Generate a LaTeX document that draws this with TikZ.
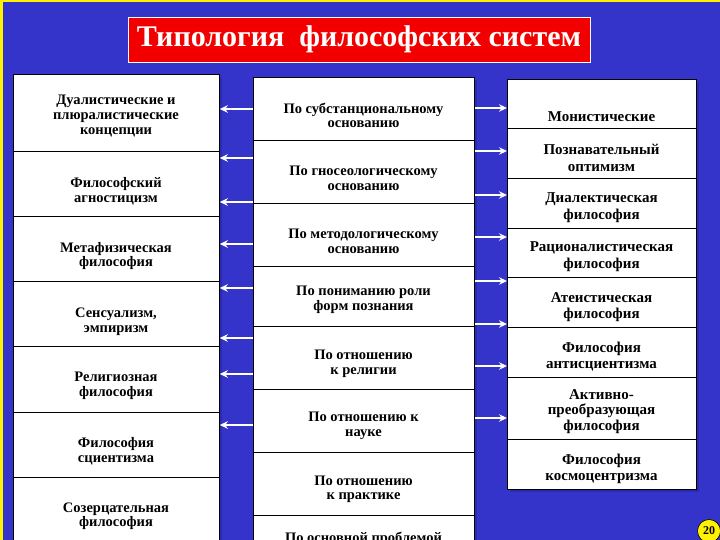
\documentclass[tikz,border=0pt]{standalone}
\usepackage{fontspec}
\setmainfont{Liberation Serif}
\usetikzlibrary{arrows.meta}
\definecolor{bg}{HTML}{3434CA}
\definecolor{ttlred}{HTML}{F20000}
\definecolor{shadowc}{HTML}{2B2BAE}
\tikzset{
  cell/.style={draw=black, line width=0.8pt, fill=white, anchor=north west, inner sep=0pt},
  shad/.style={fill=shadowc},
  ltxt/.style={font=\bfseries\fontsize{14.5}{14.5}\selectfont, align=center, inner sep=0pt},
  mtxt/.style={font=\bfseries\fontsize{14.5}{14.5}\selectfont, align=center, inner sep=0pt},
  rtxt/.style={font=\bfseries\fontsize{15}{16.5}\selectfont, align=center, inner sep=0pt},
  arr/.style={draw=white, line width=1.5pt, -{Stealth[length=8pt,width=7.5pt]}},
  ttl/.style={fill=ttlred, draw=white, line width=0.8pt, text=white, minimum width=462pt, minimum height=45pt,
    font=\bfseries\fontsize{30}{30}\selectfont, inner sep=0pt},
  badge/.style={circle, fill=yellow, draw=black, line width=0.6pt, minimum size=23pt, inner sep=0pt,
    font=\bfseries\fontsize{12}{12}\selectfont}
}
\begin{document}
\begin{tikzpicture}[x=1pt,y=-1pt]
\useasboundingbox (0,0) rectangle (720,540);
\clip (0,0) rectangle (720,540);
\fill[bg] (0,0) rectangle (720,540);
\fill[yellow] (0,0) rectangle (3,540);
\fill[yellow] (0,0) rectangle (720,2);

% title
\node[ttl] (T) at (359,39.5) {Типология\ \ философских систем};

% shadows
\fill[shad] (16,77) rectangle (222,560);
\fill[shad] (256,80) rectangle (477,580);
\fill[shad] (510,82) rectangle (699,492);

% left column
\node[cell, minimum width=206pt, minimum height=77pt] (L1) at (13,74) {};
\node[cell, minimum width=206pt, minimum height=65pt] (L2) at (13,151) {};
\node[cell, minimum width=206pt, minimum height=65pt] (L3) at (13,216) {};
\node[cell, minimum width=206pt, minimum height=65pt] (L4) at (13,281) {};
\node[cell, minimum width=206pt, minimum height=66pt] (L5) at (13,346) {};
\node[cell, minimum width=206pt, minimum height=65pt] (L6) at (13,412) {};
\node[cell, minimum width=206pt, minimum height=83pt] (L7) at (13,477) {};

\node[ltxt, font=\bfseries\fontsize{14.5}{15}\selectfont] (L1t) at (116,116) {Дуалистические и\\плюралистические\\концепции};
\node[ltxt] (L2t) at (116,191) {Философский\\агностицизм};
\node[ltxt] (L3t) at (116,256) {Метафизическая\\философия};
\node[ltxt] (L4t) at (116,321.5) {Сенсуализм,\\эмпиризм};
\node[ltxt] (L5t) at (116,386) {Религиозная\\философия};
\node[ltxt] (L6t) at (116,451) {Философия\\сциентизма};
\node[ltxt] (L7t) at (116,516) {Созерцательная\\философия};

% middle column
\node[cell, minimum width=221pt, minimum height=63pt] (M1) at (253,77) {};
\node[cell, minimum width=221pt, minimum height=63pt] (M2) at (253,140) {};
\node[cell, minimum width=221pt, minimum height=63pt] (M3) at (253,203) {};
\node[cell, minimum width=221pt, minimum height=60pt] (M4) at (253,266) {};
\node[cell, minimum width=221pt, minimum height=63pt] (M5) at (253,326) {};
\node[cell, minimum width=221pt, minimum height=63pt] (M6) at (253,389) {};
\node[cell, minimum width=221pt, minimum height=63pt] (M7) at (253,452) {};
\node[cell, minimum width=221pt, minimum height=63pt] (M8) at (253,515) {};

\node[mtxt] (M1t) at (363.5,115.5) {По субстанциональному\\основанию};
\node[mtxt] (M2t) at (363.5,178.5) {По гносеологическому\\основанию};
\node[mtxt] (M3t) at (363.5,241.5) {По методологическому\\основанию};
\node[mtxt] (M4t) at (363.5,300) {По пониманию роли\\форм познания};
\node[mtxt] (M5t) at (363.5,364) {По отношению\\к религии};
\node[mtxt] (M6t) at (363.5,426) {По отношению к\\науке};
\node[mtxt] (M7t) at (363.5,489.5) {По отношению\\к практике};
\node[mtxt, anchor=north] (M8t) at (363.5,532) {По основной проблемой};

% right column
\node[cell, minimum width=189pt, minimum height=49pt] (R1) at (507,79) {};
\node[cell, minimum width=189pt, minimum height=50pt] (R2) at (507,128) {};
\node[cell, minimum width=189pt, minimum height=50pt] (R3) at (507,178) {};
\node[cell, minimum width=189pt, minimum height=49pt] (R4) at (507,228) {};
\node[cell, minimum width=189pt, minimum height=50pt] (R5) at (507,277) {};
\node[cell, minimum width=189pt, minimum height=50pt] (R6) at (507,327) {};
\node[cell, minimum width=189pt, minimum height=62pt] (R7) at (507,377) {};
\node[cell, minimum width=189pt, minimum height=50pt] (R8) at (507,439) {};

\node[rtxt] (R1t) at (601.5,116.5) {Монистические};
\node[rtxt] (R2t) at (601.5,158) {Познавательный\\оптимизм};
\node[rtxt] (R3t) at (601.5,207.5) {Диалектическая\\философия};
\node[rtxt] (R4t) at (601.5,256.5) {Рационалистическая\\философия};
\node[rtxt] (R5t) at (601.5,307) {Атеистическая\\философия};
\node[rtxt] (R6t) at (601.5,356.5) {Философия\\антисциентизма};
\node[rtxt, font=\bfseries\fontsize{15}{15.5}\selectfont] (R7t) at (601.5,411.5) {Активно-\\преобразующая\\философия};
\node[rtxt] (R8t) at (601.5,469) {Философия\\космоцентризма};

% arrow levels
\coordinate (a1) at (0,109);
\coordinate (a2) at (0,158);
\coordinate (a3) at (0,202);
\coordinate (a4) at (0,244);
\coordinate (a5) at (0,288);
\coordinate (a6) at (0,338);
\coordinate (a7) at (0,374);
\coordinate (a8) at (0,425);
\coordinate (b1) at (0,108);
\coordinate (b2) at (0,151);
\coordinate (b3) at (0,195);
\coordinate (b4) at (0,237);
\coordinate (b5) at (0,281);
\coordinate (b6) at (0,324);
\coordinate (b7) at (0,366);
\coordinate (b8) at (0,418);

% arrows to the left
\draw[arr] (M1.west |- a1) -- (L1.east |- a1);
\draw[arr] (M2.west |- a2) -- (L2.east |- a2);
\draw[arr] (M2.west |- a3) -- (L2.east |- a3);
\draw[arr] (M3.west |- a4) -- (L3.east |- a4);
\draw[arr] (M4.west |- a5) -- (L4.east |- a5);
\draw[arr] (M5.west |- a6) -- (L4.east |- a6);
\draw[arr] (M5.west |- a7) -- (L5.east |- a7);
\draw[arr] (M6.west |- a8) -- (L6.east |- a8);

% arrows to the right
\draw[arr] (M1.east |- b1) -- (R1.west |- b1);
\draw[arr] (M2.east |- b2) -- (R2.west |- b2);
\draw[arr] (M2.east |- b3) -- (R3.west |- b3);
\draw[arr] (M3.east |- b4) -- (R4.west |- b4);
\draw[arr] (M4.east |- b5) -- (R5.west |- b5);
\draw[arr] (M4.east |- b6) -- (R5.west |- b6);
\draw[arr] (M5.east |- b7) -- (R6.west |- b7);
\draw[arr] (M6.east |- b8) -- (R7.west |- b8);

% page badge
\node[badge] (pg) at (709,531) {20};
\end{tikzpicture}
\end{document}
